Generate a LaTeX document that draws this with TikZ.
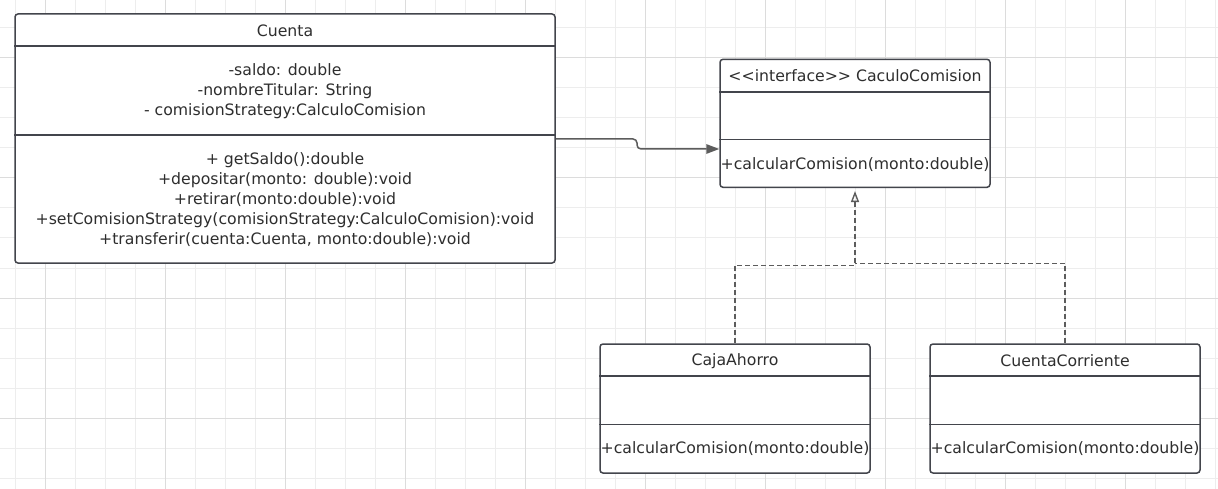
\documentclass[tikz,border=0pt]{standalone}
\usepackage{fontspec}
\newfontfamily\umlfont{DejaVu Sans}
\usetikzlibrary{arrows.meta,calc}
\definecolor{gridminor}{HTML}{EDEDED}
\definecolor{gridmajor}{HTML}{DCDCDC}
\definecolor{boxline}{HTML}{43454C}
\definecolor{umltext}{HTML}{2E2E2E}
\definecolor{linkline}{HTML}{5C5C5C}
\begin{document}
\begin{tikzpicture}[x=1pt,y=-1pt,
  classbox/.style={draw=boxline, line width=1.5pt, rounded corners=3pt, fill=white, inner sep=0pt},
  divider/.style={draw=boxline, line width=1.5pt},
  umllabel/.style={font=\umlfont\fontsize{15.7}{20}\selectfont, text=umltext, align=center, inner sep=0pt},
  assoc/.style={draw=linkline, line width=1.5pt, rounded corners=4pt, -{Triangle[length=13pt,width=9.5pt]}},
  realize/.style={draw=linkline, line width=1.4pt, dash pattern=on 5pt off 3pt},
  realizetip/.style={-{Triangle[open,length=11pt,width=8pt]}}]

% canvas and background grid
\useasboundingbox (0,0) rectangle (1218,489);
\fill[white] (0,0) rectangle (1218,489);
\foreach \x in {15,45,...,1215} \draw[gridminor, line width=1pt] (\x,0) -- (\x,489);
\foreach \y in {28,58,...,478} \draw[gridminor, line width=1pt] (0,\y) -- (1218,\y);
\foreach \x in {45,165,...,1125} \draw[gridmajor, line width=1pt] (\x,0) -- (\x,489);
\foreach \y in {58,178,...,418} \draw[gridmajor, line width=1pt] (0,\y) -- (1218,\y);

% class Cuenta
\node[classbox, minimum width=540pt, minimum height=249pt] (cuenta) at (285,138.5) {};
\draw[divider] (cuenta.west |- 0,46) -- (cuenta.east |- 0,46);
\draw[divider] (cuenta.west |- 0,135) -- (cuenta.east |- 0,135);
\node[umllabel] (cuentaname) at (285,30.5) {Cuenta};
\node[umllabel] (cuentaattr) at (285,91) {-saldo: double\\-nombreTitular: String\\- comisionStrategy:CalculoComision};
\node[umllabel] (cuentaops) at (285,200) {+ getSaldo():double\\+depositar(monto: double):void\\+retirar(monto:double):void\\+setComisionStrategy(comisionStrategy:CalculoComision):void\\+transferir(cuenta:Cuenta, monto:double):void};

% interface CaculoComision
\node[classbox, minimum width=270pt, minimum height=128pt] (iface) at (855,123.3) {};
\draw[divider] (iface.west |- 0,92) -- (iface.east |- 0,92);
\draw[divider] (iface.west |- 0,139.3) -- (iface.east |- 0,139.3);
\node[umllabel] (ifacename) at (855,76) {{<}{<}interface{>}{>} CaculoComision};
\node[umllabel] (ifaceops) at (855,165) {+calcularComision(monto:double)};

% class CajaAhorro
\node[classbox, minimum width=270pt, minimum height=129pt] (caja) at (735,408.5) {};
\draw[divider] (caja.west |- 0,376) -- (caja.east |- 0,376);
\draw[divider] (caja.west |- 0,424.3) -- (caja.east |- 0,424.3);
\node[umllabel] (cajaname) at (735,361) {CajaAhorro};
\node[umllabel] (cajaops) at (735,448.5) {+calcularComision(monto:double)};

% class CuentaCorriente
\node[classbox, minimum width=270pt, minimum height=129pt] (corr) at (1065,408.5) {};
\draw[divider] (corr.west |- 0,376) -- (corr.east |- 0,376);
\draw[divider] (corr.west |- 0,424.3) -- (corr.east |- 0,424.3);
\node[umllabel] (corrname) at (1065,361) {CuentaCorriente};
\node[umllabel] (corrops) at (1065,448.5) {+calcularComision(monto:double)};

% association Cuenta -> CaculoComision
\draw[assoc] (cuenta.east |- 0,139) -- (637,139) -- (637,149) -- (iface.west |- 0,149);

% realizations of the interface
\coordinate (ifacetip) at ($(iface.south)+(0,3)$);
\draw[realize] (caja.north) -- (caja.north |- 0,265.5) -- (ifacetip |- 0,265.5) -- ($(ifacetip)+(0,11)$);
\draw[realize] (corr.north) -- (corr.north |- 0,263.5) -- (ifacetip |- 0,263.5);
\draw[draw=linkline, line width=1.4pt, realizetip] ($(ifacetip)+(0,12)$) -- (ifacetip);
\end{tikzpicture}
\end{document}
